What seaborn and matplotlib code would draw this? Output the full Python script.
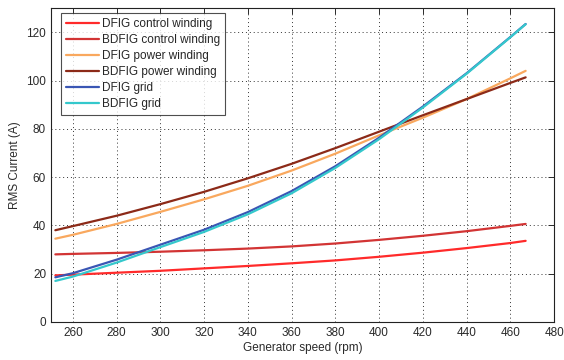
import numpy as np
import pandas as pd
import matplotlib
matplotlib.use("Agg")
import matplotlib.pyplot as plt
import seaborn as sns

speed = [252, 260, 280, 300, 320, 340, 360, 380, 400, 420, 440, 460, 467]

dfig_control  = [19.3, 19.6, 20.4, 21.2, 22.2, 23.2, 24.3, 25.5, 27.0, 28.7, 30.6, 32.7, 33.6]
bdfig_control = [28.0, 28.2, 28.6, 29.1, 29.7, 30.4, 31.3, 32.5, 34.0, 35.7, 37.6, 39.8, 40.6]
dfig_power    = [34.5, 36.1, 40.6, 45.6, 50.8, 56.4, 62.7, 69.7, 77.3, 84.6, 92.3, 100.9, 104.0]
bdfig_power   = [38.0, 39.7, 44.0, 48.8, 53.9, 59.5, 65.5, 72.0, 78.8, 85.6, 92.3, 99.0, 101.3]
dfig_grid     = [18.5, 20.2, 25.8, 32.0, 38.2, 45.5, 54.2, 64.5, 76.3, 89.2, 103.0, 118.0, 123.4]
bdfig_grid    = [17.0, 18.8, 24.6, 31.0, 37.3, 44.6, 53.3, 63.8, 75.7, 88.8, 102.8, 117.9, 123.3]

labels = ["DFIG control winding", "BDFIG control winding", "DFIG power winding",
          "BDFIG power winding", "DFIG grid", "BDFIG grid"]
colors = ["#ff2a2a", "#d23434", "#f9a85e", "#8c2a18", "#3a56b4", "#34c8cc"]
series = [dfig_control, bdfig_control, dfig_power, bdfig_power, dfig_grid, bdfig_grid]

df = pd.concat([pd.DataFrame({"speed": speed, "current": v, "series": lab})
                for lab, v in zip(labels, series)], ignore_index=True)

sns.set_theme(style="white")
plt.rcParams["font.family"] = ["Liberation Sans", "DejaVu Sans"]

fig = plt.figure(figsize=(5.64, 3.6), dpi=100)
ax = fig.add_axes([0.0904, 0.1056, 0.892, 0.872])
sns.lineplot(data=df, x="speed", y="current", hue="series", hue_order=labels,
             palette=dict(zip(labels, colors)), linewidth=1.6, ax=ax)

ax.set_xlim(250, 480)
ax.set_ylim(0, 130)
ax.set_xticks(range(260, 481, 20))
ax.set_yticks(range(0, 121, 20))
ax.grid(True, color="#333333", linestyle=(0, (1, 3)), linewidth=0.7)
ax.tick_params(direction="in", top=True, right=True, length=4, labelsize=8.5,
               colors="#2a2a2a", width=0.7)
for s in ax.spines.values():
    s.set_color("#222222")
    s.set_linewidth(0.8)
ax.set_xlabel("Generator speed (rpm)", fontsize=8.5, labelpad=2, color="#2a2a2a")
ax.set_ylabel("RMS Current (A)", fontsize=8.5, labelpad=4, color="#2a2a2a")

leg = ax.legend(loc="upper left", bbox_to_anchor=(0.02, 0.984), borderaxespad=0,
                fontsize=8.5, frameon=True, fancybox=False, edgecolor="#222222",
                handlelength=2.8, handletextpad=0.25, labelspacing=0.35, borderpad=0.4)
leg.get_frame().set_linewidth(0.8)

fig.savefig("out.png", dpi=100)
